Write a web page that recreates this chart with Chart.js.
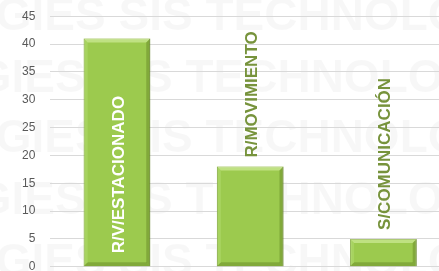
<!DOCTYPE html>
<html>
<head>
<meta charset="utf-8">
<script src="https://cdn.jsdelivr.net/npm/chart.js@4/dist/chart.umd.min.js"></script>
<style>
  html, body { margin: 0; padding: 0; background: #fff; overflow: hidden; }
  #wrap { width: 450px; height: 271px; overflow: hidden; }
  #myChart { display: block; margin-top: -6px; }
</style>
</head>
<body>
<div id="wrap"><canvas id="myChart" width="450" height="295"></canvas></div>
<script>
const categories = ["R/V/ESTACIONADO", "R/MOVIMIENTO", "S/COMUNICACIÓN"];
const values = [41, 18, 5];
const yTicks = [0, 5, 10, 15, 20, 25, 30, 35, 40, 45];

// faint watermark behind the plot
const watermark = {
  id: "watermark",
  beforeDraw(chart) {
    const ctx = chart.ctx;
    ctx.save();
    ctx.font = "bold 46px 'Liberation Sans', sans-serif";
    ctx.fillStyle = "rgba(0,0,0,0.03)";
    const rows = [[-40, 36], [-60, 98], [-40, 158], [-60, 220], [-40, 282]];
    rows.forEach(([x, y]) => ctx.fillText("OGIES SIS TECHNOLOGIES", x, y));
    ctx.restore();
  }
};

// bevel edges + vertical category labels
const barLabels = {
  id: "barLabels",
  afterDatasetsDraw(chart) {
    const ctx = chart.ctx;
    const meta = chart.getDatasetMeta(0);
    ctx.save();
    meta.data.forEach((bar) => {
      const l = bar.x - bar.width / 2, r = bar.x + bar.width / 2;
      const t = bar.y, b = bar.base, e = 4;
      ctx.fillStyle = "rgba(215,240,165,0.6)";
      ctx.beginPath();
      ctx.moveTo(l, t); ctx.lineTo(r, t); ctx.lineTo(r - e, t + e); ctx.lineTo(l + e, t + e);
      ctx.fill();
      ctx.fillStyle = "rgba(90,120,30,0.4)";
      ctx.beginPath();
      ctx.moveTo(r, t); ctx.lineTo(r, b); ctx.lineTo(r - e, b - e); ctx.lineTo(r - e, t + e);
      ctx.fill();
      ctx.beginPath();
      ctx.moveTo(l, b); ctx.lineTo(r, b); ctx.lineTo(r - e, b - e); ctx.lineTo(l + e, b - e);
      ctx.fill();
      ctx.fillStyle = "rgba(190,230,130,0.35)";
      ctx.beginPath();
      ctx.moveTo(l, t); ctx.lineTo(l + e, t + e); ctx.lineTo(l + e, b - e); ctx.lineTo(l, b);
      ctx.fill();
    });
    ctx.font = "bold 17px 'Liberation Sans', sans-serif";
    ctx.textBaseline = "middle";
    ctx.textAlign = "left";
    meta.data.forEach((bar, i) => {
      const text = categories[i];
      const w = ctx.measureText(text).width;
      let y, color;
      if (w + 20 < bar.base - bar.y) {
        y = bar.base - 13;
        color = "#ffffff";
      } else {
        y = bar.y - 9;
        color = "#77933c";
      }
      ctx.save();
      ctx.translate(bar.x + 2, y);
      ctx.rotate(-Math.PI / 2);
      ctx.fillStyle = color;
      ctx.fillText(text, 0, 0);
      ctx.restore();
    });
    ctx.restore();
  }
};

const ctx = document.getElementById("myChart").getContext("2d");

const myChart = new Chart(ctx, {
  type: "bar",
  data: {
    labels: categories,
    datasets: [{
      data: values,
      backgroundColor: "#9cca4e",
      borderColor: "#6f8f2e",
      borderWidth: 1,
      barPercentage: 0.5,
      categoryPercentage: 1.0
    }]
  },
  options: {
    responsive: false,
    animation: false,
    layout: { padding: { left: 7, top: 2, right: 0, bottom: 0 } },
    plugins: {
      legend: { display: false },
      tooltip: { enabled: false }
    },
    scales: {
      x: { display: false },
      y: {
        min: 0,
        max: 45,
        afterBuildTicks(axis) {
          axis.ticks = yTicks.map(v => ({ value: v }));
        },
        ticks: {
          color: "#595959",
          font: { family: "'Liberation Sans', sans-serif", size: 12 },
          padding: 15
        },
        grid: { color: "#d9d9d9", lineWidth: 1, drawTicks: false },
        border: { display: false }
      }
    }
  },
  plugins: [watermark, barLabels]
});
</script>
</body>
</html>
